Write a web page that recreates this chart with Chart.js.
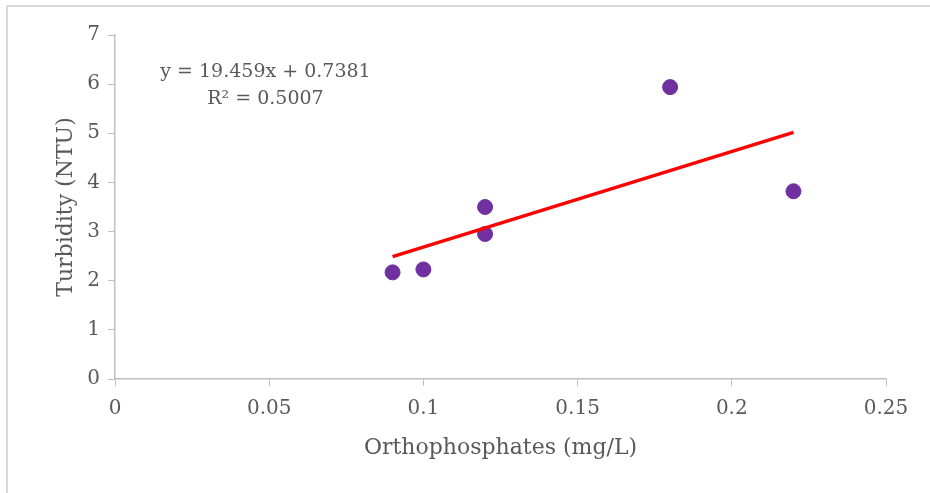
<!DOCTYPE html>
<html>
<head>
<meta charset="utf-8">
<script src="https://cdn.jsdelivr.net/npm/chart.js@4.4.1/dist/chart.umd.min.js"></script>
<style>
  html, body { margin: 0; padding: 0; background: #fff; overflow: hidden; }
  #frame { position: absolute; left: 6px; top: 5px; width: 1000px; height: 600px;
           border-left: 2px solid #d9d9d9; border-top: 2px solid #d9d9d9; }
  #wrap { position: absolute; left: 0; top: 0; width: 930px; height: 493px; }
</style>
</head>
<body>
<div id="frame"></div>
<div id="wrap"><canvas id="chart"></canvas></div>
<script>
// data
const orthophosphates = [0.09, 0.10, 0.12, 0.12, 0.18, 0.22];
const turbidity = [2.17, 2.23, 2.95, 3.50, 5.94, 3.82];

// Excel linear trendline, from the label
const slope = 19.459;
const intercept = 0.7381;
const rSquared = 0.5007;
const eqLines = ['y = ' + slope + 'x + ' + intercept, 'R\u00B2 = ' + rSquared];

const xMin = Math.min(...orthophosphates);
const xMax = Math.max(...orthophosphates);
const trend = [
    { x: xMin, y: slope * xMin + intercept },
    { x: xMax, y: slope * xMax + intercept }
];

const FONT = "'DejaVu Serif', serif";
const GREY = '#595959';
const AXIS = '#bfbfbf';

// trendline equation label, anchored in data units like Excel does
const equationLabel = {
    id: 'equationLabel',
    afterDatasetsDraw(chart) {
        const { ctx, scales } = chart;
        const cx = scales.x.getPixelForValue(0.0488);
        const cy = scales.y.getPixelForValue(6.25);
        ctx.save();
        ctx.fillStyle = GREY;
        ctx.font = '19px ' + FONT;
        ctx.textAlign = 'center';
        ctx.textBaseline = 'middle';
        ctx.fillText(eqLines[0], cx, cy);
        ctx.fillText(eqLines[1], cx, cy + 27);
        ctx.restore();
    }
};

new Chart(document.getElementById('chart'), {
    type: 'scatter',
    data: {
        datasets: [
            {
                label: 'Turbidity',
                data: orthophosphates.map((x, i) => ({ x: x, y: turbidity[i] })),
                backgroundColor: '#7030a0',
                borderColor: '#7030a0',
                pointRadius: 7.5,
                pointHoverRadius: 7.5,
                order: 2
            },
            {
                label: 'Linear',
                type: 'line',
                data: trend,
                borderColor: '#ff0000',
                borderWidth: 3.5,
                pointRadius: 0,
                fill: false,
                order: 1
            }
        ]
    },
    plugins: [equationLabel],
    options: {
        responsive: true,
        maintainAspectRatio: false,
        animation: false,
        layout: { padding: { left: 0, right: 44, top: 35, bottom: 0 } },
        plugins: {
            legend: { display: false },
            tooltip: { enabled: false }
        },
        scales: {
            x: {
                type: 'linear',
                min: 0,
                max: 0.25,
                afterFit: (s) => { s.height = 114; },
                ticks: {
                    stepSize: 0.05,
                    color: GREY,
                    font: { family: FONT, size: 20 },
                    padding: 11,
                    maxRotation: 0,
                    callback: (v) => +v.toFixed(2)
                },
                grid: { drawOnChartArea: false, drawTicks: true, tickLength: 7, color: AXIS },
                border: { display: true, color: AXIS, width: 1.5 },
                title: {
                    display: true,
                    text: 'Orthophosphates (mg/L)',
                    color: GREY,
                    font: { family: FONT, size: 22 },
                    padding: { top: 0, bottom: 32 }
                }
            },
            y: {
                min: 0,
                max: 7,
                afterFit: (s) => { s.width = 115; },
                ticks: {
                    stepSize: 1,
                    color: GREY,
                    font: { family: FONT, size: 20 },
                    padding: 8
                },
                grid: { drawOnChartArea: false, drawTicks: true, tickLength: 7, color: AXIS },
                border: { display: true, color: AXIS, width: 1.5 },
                title: {
                    display: true,
                    text: 'Turbidity (NTU)',
                    color: GREY,
                    font: { family: FONT, size: 22 },
                    padding: { top: 53, bottom: 0 }
                }
            }
        }
    }
});
</script>
</body>
</html>
